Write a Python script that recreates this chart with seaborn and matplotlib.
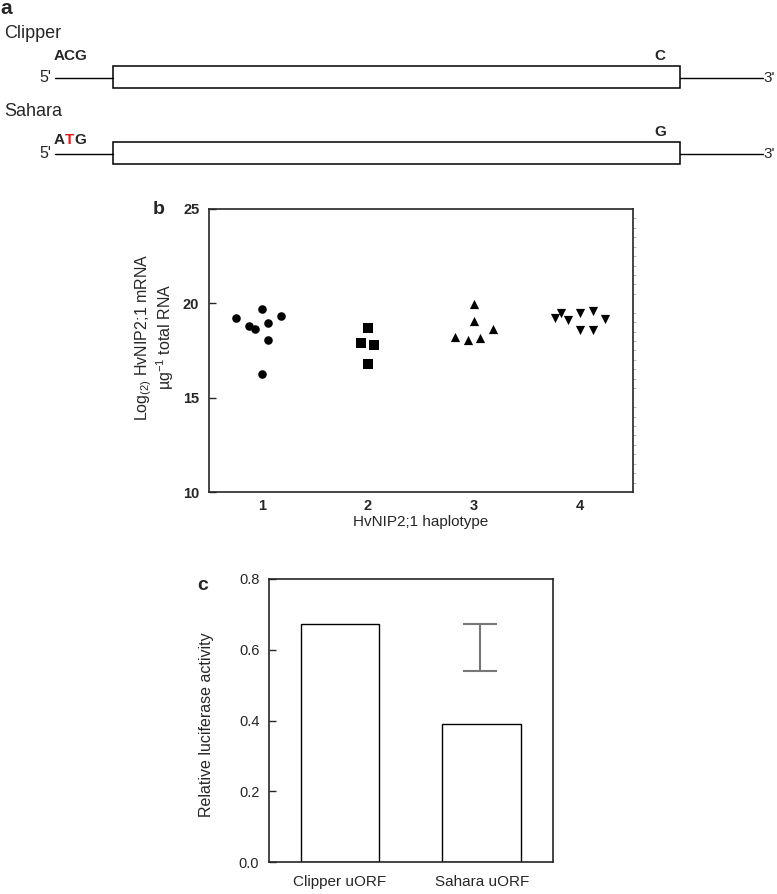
import numpy as np
import pandas as pd
import matplotlib
matplotlib.use("Agg")
import matplotlib.pyplot as plt
from matplotlib.patches import Rectangle
from matplotlib.ticker import MultipleLocator
import seaborn as sns

# ---------------- data ----------------
haplotypes = ["1", "2", "3", "4"]
hap1_values = [19.24, 18.80, 18.64, 19.70, 18.97, 18.07, 19.33, 16.24]
hap2_values = [18.68, 17.92, 17.79, 16.79]
hap3_values = [19.97, 19.08, 18.23, 18.06, 18.18, 18.64]
hap4_values = [19.21, 19.47, 19.12, 19.47, 19.61, 19.15, 18.59, 18.59]

y_ticks_b = [10, 15, 20, 25]

uorf_labels = ["Clipper uORF", "Sahara uORF"]
uorf_values = [0.673, 0.390]
err_low = [0.539]
err_high = [0.673]
y_ticks_c = [0.0, 0.2, 0.4, 0.6, 0.8]

# horizontal scatter offsets (layout only)
hap1_jit = [-0.241, -0.121, -0.062, 0.0, 0.06, 0.06, 0.18, 0.0]
hap2_jit = [0.0, -0.062, 0.06, 0.0]
hap3_jit = [0.0, 0.0, -0.18, -0.06, 0.06, 0.18]
hap4_jit = [-0.235, -0.175, -0.115, 0.0, 0.12, 0.235, 0.0, 0.12]

# ---------------- style ----------------
sns.set_style("ticks")
plt.rcParams["font.family"] = ["Liberation Sans", "DejaVu Sans"]
plt.rcParams["mathtext.fontset"] = "custom"
plt.rcParams["mathtext.rm"] = "Liberation Sans"
plt.rcParams["mathtext.it"] = "Liberation Sans:italic"
plt.rcParams["mathtext.bf"] = "Liberation Sans:bold"

W, H = 777, 894
fig = plt.figure(figsize=(W / 100, H / 100), dpi=100)


def rect(x0, y0, x1, y1):
    return [x0 / W, 1 - y1 / H, (x1 - x0) / W, (y1 - y0) / H]


# ---------------- panel a (diagram) ----------------
axa = fig.add_axes([0, 1 - 190 / H, 1, 190 / H])
axa.set_xlim(0, W)
axa.set_ylim(190, 0)
axa.axis("off")

rows = [
    dict(name="Clipper", name_y=33, y=77.5, top=65.7, bot=88.3, codon_y=56, end_base="C", end_y=56),
    dict(name="Sahara", name_y=112, y=154, top=141.7, bot=164.3, codon_y=140, end_base="G", end_y=132),
]
for r in rows:
    axa.plot([55, 112.5], [r["y"], r["y"]], color="black", lw=1.0)
    axa.plot([679.5, 763], [r["y"], r["y"]], color="black", lw=1.0)
    axa.add_patch(Rectangle((112.5, r["top"]), 567, r["bot"] - r["top"],
                            facecolor="white", edgecolor="black", lw=1.1))
    axa.text(51, r["y"], "5'", ha="right", va="center", fontsize=11.5)
    axa.text(763, r["y"], "3'", ha="left", va="center", fontsize=11)
    axa.text(4, r["name_y"], r["name"], ha="left", va="center", fontsize=13)
    axa.text(660, r["end_y"], r["end_base"], ha="center", va="center",
             fontsize=11, fontweight="bold")

axa.text(54, rows[0]["codon_y"], "ACG", ha="left", va="center", fontsize=11, fontweight="bold")
axa.text(54, rows[1]["codon_y"], "A", ha="left", va="center", fontsize=11, fontweight="bold")
axa.text(65, rows[1]["codon_y"], "T", ha="left", va="center", fontsize=11, fontweight="bold", color="#e8141b")
axa.text(74.3, rows[1]["codon_y"], "G", ha="left", va="center", fontsize=11, fontweight="bold")
axa.text(0, 8, "a", ha="left", va="center", fontsize=15, fontweight="bold")

# ---------------- panel b (scatter) ----------------
axb = fig.add_axes(rect(209, 209, 633, 492))
groups = [
    (hap1_values, hap1_jit, "o", 38),
    (hap2_values, hap2_jit, "s", 46),
    (hap3_values, hap3_jit, "^", 44),
    (hap4_values, hap4_jit, "v", 44),
]
for i, (vals, jit, mk, sz) in enumerate(groups):
    df = pd.DataFrame({"x": i + 1 + np.array(jit), "y": vals})
    sns.scatterplot(data=df, x="x", y="y", marker=mk, s=sz, color="black",
                    linewidth=0, ax=axb, legend=False)

axb.set_xlim(0.5, 4.5)
axb.set_ylim(10, 25)
axb.set_xticks(range(1, 5))
axb.set_xticklabels(haplotypes, fontsize=10.5, fontweight="bold")
axb.set_yticks(y_ticks_b)
axb.set_yticklabels([str(t) for t in y_ticks_b], fontsize=10.5, fontweight="bold")
axb.tick_params(axis="x", length=0, pad=5)
axb.tick_params(axis="y", direction="in", length=5, width=1, pad=7)
axb.yaxis.set_minor_locator(MultipleLocator(0.5))
axb.tick_params(axis="y", which="minor", left=False, right=True, direction="out",
                length=1.8, width=0.5, color="#999999")
for s in axb.spines.values():
    s.set_linewidth(1.2)
    s.set_visible(True)
axb.set_xlabel("HvNIP2;1 haplotype", fontsize=11)
axb.xaxis.set_label_coords(0.5, -0.106)
axb.xaxis.label.set_va("center")
axb.set_ylabel("Log$_{\\mathregular{(2)}}$ HvNIP2;1 mRNA\nµg$^{\\mathregular{-1}}$ total RNA",
               fontsize=11.5, linespacing=1.05)
axb.yaxis.set_label_coords(-0.128, 0.548)
axb.yaxis.label.set_va("center")
fig.text(153 / W, 1 - 209 / H, "b", ha="left", va="center", fontsize=14, fontweight="bold")

# ---------------- panel c (bars) ----------------
axc = fig.add_axes(rect(269, 579, 552.7, 862.3))
dfc = pd.DataFrame({"label": uorf_labels, "value": uorf_values})
sns.barplot(data=dfc, x="label", y="value", color="white", edgecolor="black",
            linewidth=1.0, width=0.555, ax=axc, errorbar=None)
axc.errorbar([0.99], [(err_low[0] + err_high[0]) / 2],
             yerr=[[(err_high[0] - err_low[0]) / 2]], fmt="none",
             ecolor="#777777", elinewidth=1.5, capsize=12.5, capthick=1.5)
axc.set_xlim(-0.5, 1.5)
axc.set_ylim(0, 0.8)
axc.set_yticks(y_ticks_c)
axc.set_yticklabels([f"{t:.1f}" for t in y_ticks_c], fontsize=10.5)
axc.tick_params(axis="x", length=0, pad=9, labelsize=11)
axc.tick_params(axis="y", direction="in", length=5, width=1, pad=7)
for s in axc.spines.values():
    s.set_linewidth(1.2)
    s.set_visible(True)
axc.set_xlabel("")
axc.set_ylabel("Relative luciferase activity", fontsize=11.5)
axc.yaxis.set_label_coords(-0.222, 0.485)
axc.yaxis.label.set_va("center")
fig.text(197 / W, 1 - 586 / H, "c", ha="left", va="center", fontsize=14, fontweight="bold")

fig.savefig("out.png", dpi=100, facecolor="white")
